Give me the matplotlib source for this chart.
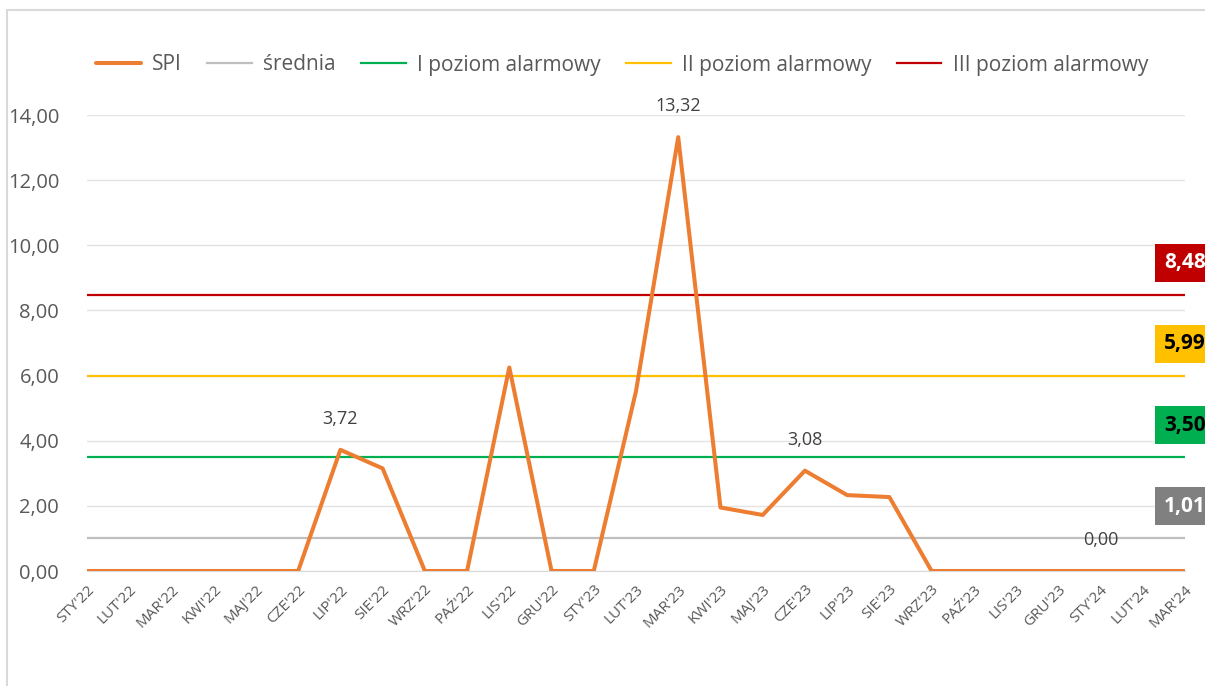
import matplotlib
matplotlib.use("Agg")
import matplotlib.pyplot as plt
from matplotlib.patches import Rectangle

plt.rcParams['font.family'] = ['Open Sans', 'DejaVu Sans']

months = ["STY'22", "LUT'22", "MAR'22", "KWI'22", "MAJ'22", "CZE'22", "LIP'22", "SIE'22",
          "WRZ'22", "PAŹ'22", "LIS'22", "GRU'22", "STY'23", "LUT'23", "MAR'23", "KWI'23",
          "MAJ'23", "CZE'23", "LIP'23", "SIE'23", "WRZ'23", "PAŹ'23", "LIS'23", "GRU'23",
          "STY'24", "LUT'24", "MAR'24"]
spi = [0, 0, 0, 0, 0, 0, 3.72, 3.15, 0, 0, 6.25, 0, 0, 5.52, 13.32, 1.95,
       1.72, 3.08, 2.33, 2.27, 0, 0, 0, 0, 0, 0, 0]
srednia = 1.01
poziom1 = 3.50
poziom2 = 5.99
poziom3 = 8.48
labelled = ["LIP'22", "MAR'23", "CZE'23", "STY'24"]

fig = plt.figure(figsize=(12.05, 6.86), dpi=100)
ax = fig.add_axes([87/1205, 1-571/686, (1185-87)/1205, (571-115)/686])

x = list(range(len(months)))
ax.plot(x, [srednia]*len(x), color='#BFBFBF', lw=1.6, label='średnia', zorder=2)
ax.plot(x, [poziom1]*len(x), color='#00B050', lw=1.6, label='I poziom alarmowy', zorder=2)
ax.plot(x, [poziom2]*len(x), color='#FFC000', lw=1.6, label='II poziom alarmowy', zorder=2)
ax.plot(x, [poziom3]*len(x), color='#C00000', lw=1.6, label='III poziom alarmowy', zorder=2)
ax.plot(x, spi, color='#ED7D31', lw=2.9, label='SPI', zorder=3, solid_capstyle='round')

def fmt(v):
    return ('%.2f' % v).replace('.', ',')

for m in labelled:
    i = months.index(m)
    ax.annotate(fmt(spi[i]), (i, spi[i]), xytext=(0, 31), textcoords='offset pixels',
                ha='center', va='center', fontsize=13, color='#404040')

# value boxes at the right end of the threshold lines
boxes = [(poziom3, '#C00000', 'white'), (poziom2, '#FFC000', 'black'),
         (poziom1, '#00B050', 'black'), (srednia, '#808080', 'white')]
for val, bg, fg in boxes:
    ax.annotate(fmt(val), (x[-1], val), xytext=(-21, 32), textcoords='offset pixels',
                ha='left', va='center', fontsize=15, fontweight='bold', color=fg,
                bbox=dict(boxstyle='square,pad=0.42', fc=bg, ec='none'),
                annotation_clip=False, zorder=5)

ax.set_xlim(0, len(months)-1)
ax.set_ylim(0, 14)
ax.set_yticks(range(0, 15, 2))
ax.set_yticklabels([fmt(v) for v in range(0, 15, 2)], fontsize=14.5, color='#595959')
ax.set_xticks(x)
ax.set_xticklabels(months, rotation=45, ha='right', rotation_mode='anchor',
                   fontsize=11, color='#595959')
ax.tick_params(axis='both', length=0)
ax.tick_params(axis='y', pad=20)
ax.tick_params(axis='x', pad=8)
ax.grid(axis='y', color='#E3E3E3', lw=1)
ax.set_axisbelow(True)
for s in ['top', 'right', 'left']:
    ax.spines[s].set_visible(False)
ax.spines['bottom'].set_color('#D9D9D9')

h, l = ax.get_legend_handles_labels()
order = [4, 0, 1, 2, 3]
fig.legend([h[i] for i in order], [l[i] for i in order], loc='center',
           bbox_to_anchor=(622/1205, 1-65/686), ncol=5, frameon=False, fontsize=15,
           handlelength=2.15, handletextpad=0.55, columnspacing=1.2, labelcolor='#595959')

fig.patches.append(Rectangle((7/1205, -0.1), 1.1, 1-10/686+0.1, transform=fig.transFigure,
                             fill=False, ec='#D9D9D9', lw=1.5))

fig.savefig('out.png', dpi=100)
